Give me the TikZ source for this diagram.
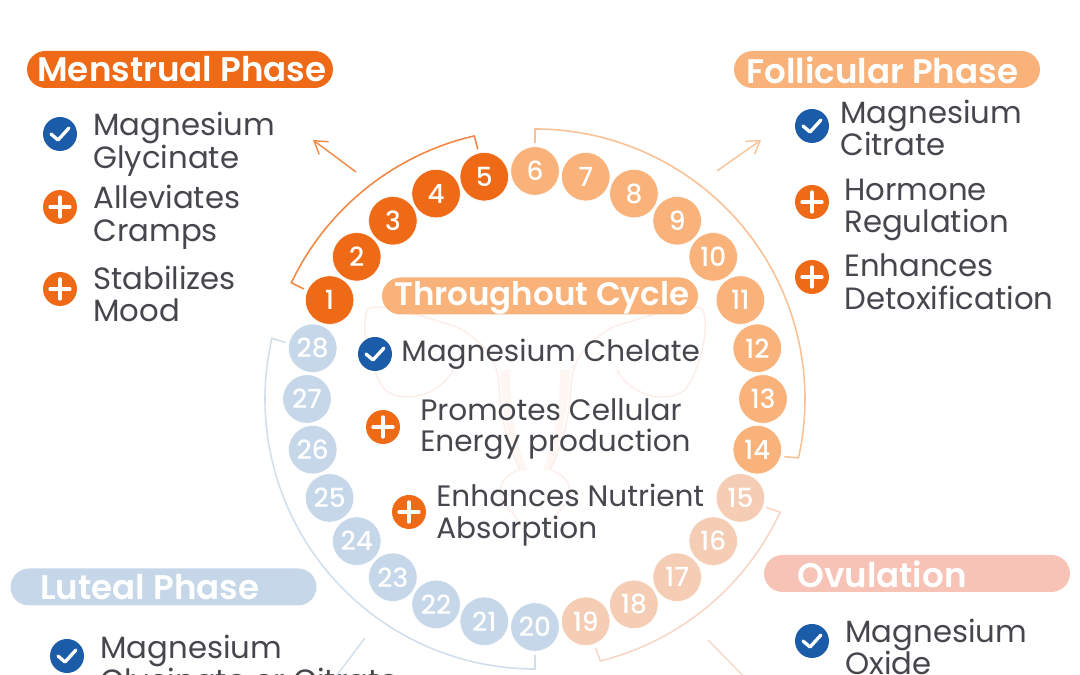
\documentclass[tikz,border=0pt]{standalone}
\usepackage{fontspec}
\setmainfont{Poppins}
\newfontfamily\pillfont{Poppins SemiBold}
\newfontfamily\dayfont{Poppins Medium}
\usetikzlibrary{arrows.meta}
\definecolor{menscol}{HTML}{EF6A17}
\definecolor{follcol}{HTML}{F8B27A}
\definecolor{ovulcol}{HTML}{F5CDB4}
\definecolor{lutecol}{HTML}{C5D7E9}
\definecolor{ovulpill}{HTML}{F6C3B6}
\definecolor{checkcol}{HTML}{1B5CA8}
\definecolor{inkcol}{HTML}{45474D}
\definecolor{wombcol}{HTML}{FCEDE8}
\tikzset{
    dayball/.style={circle,draw=white,line width=0.3pt,minimum size=0.97cm,inner sep=0pt,text=white,font=\dayfont\fontsize{15}{15}\selectfont},
    pill/.style={minimum width=6.12cm,minimum height=0.74cm,inner sep=0pt,rounded corners=0.37cm},
    pilltext/.style={anchor=west,inner sep=0pt,text=white,font=\pillfont\fontsize{19.4}{19.4}\selectfont},
    item/.style={anchor=west,inner sep=0pt,align=left,text=inkcol,font=\fontsize{17.5}{18.6}\selectfont},
    centreitem/.style={item,font=\fontsize{16.8}{18}\selectfont},
    checkicon/.style={circle,fill=checkcol,minimum size=0.68cm,inner sep=0pt,
        path picture={\draw[white,line width=1.9pt,line cap=round,line join=round]
            ([shift={(-9,0)}]path picture bounding box.center) --
            ([shift={(-2,-6)}]path picture bounding box.center) --
            ([shift={(9,6)}]path picture bounding box.center);}},
    plusicon/.style={circle,fill=menscol,minimum size=0.68cm,inner sep=0pt,
        path picture={\draw[white,line width=1.9pt,line cap=round]
            ([shift={(-10,0)}]path picture bounding box.center) --
            ([shift={(10,0)}]path picture bounding box.center)
            ([shift={(0,-10)}]path picture bounding box.center) --
            ([shift={(0,10)}]path picture bounding box.center);}},
    bracket/.style={line width=0.9pt,shorten <=2pt,shorten >=2pt},
    phasearrow/.style={line width=0.8pt,-{Straight Barb[length=7pt,width=9pt]}}
}
\begin{document}
\begin{tikzpicture}[x=0.02cm,y=0.02cm]
    \clip (0,0) rectangle (1080,675);
    \coordinate (ctr) at (535,276);
    % womb behind the centre text
    \foreach \s in {1,-1}{
        \begin{scope}[shift={(535,0)},xscale=\s]
            \fill[wombcol,opacity=0.5] (25,305) -- (35,305) .. controls (33,260) and (25,230) .. (15,205) -- (8,205) .. controls (18,230) and (25,260) .. (25,305);
            \draw[wombcol,line width=0.8pt] (78,348) .. controls (55,335) and (38,320) .. (36,290) .. controls (34,250) and (25,225) .. (15,205);
            \draw[wombcol,line width=0.8pt] (15,205) .. controls (35,200) and (40,180) .. (30,170) .. controls (20,160) and (12,150) .. (8,135);
            \draw[wombcol,line width=0.8pt] (78,348) .. controls (110,358) and (160,375) .. (168,365) .. controls (175,345) and (165,305) .. (150,285);
            \draw[wombcol,line width=0.8pt] (82,305) .. controls (95,280) and (130,270) .. (150,285);
        \end{scope}
    }
    % days
    \foreach \from/\to/\col in {1/5/menscol,6/14/follcol,15/19/ovulcol,20/28/lutecol}
        \foreach \n in {\from,...,\to}{
            \pgfmathsetmacro{\a}{90+(6-\n)*360/28}
            \node[dayball,fill=\col] (d\n) at ([shift={(\a:228)}]ctr) {\n};
        }
    % brackets
    \draw[bracket,draw=menscol!80!white] (d1.157) -- ([shift={(154.5:270)}]ctr) arc[start angle=154.5,end angle=103,radius=270] -- (d5.103);
    \draw[bracket,draw=follcol!80!white] (d6.90) -- ([shift={(90:270)}]ctr) arc[start angle=90,end angle=-12.6,radius=270] -- (d14.-16);
    \draw[bracket,draw=ovulcol!80!white] (d15.-20) -- ([shift={(-24.8:270)}]ctr) arc[start angle=-24.8,end angle=-76,radius=270] -- (d19.-70);
    \draw[bracket,draw=lutecol!80!white] (d20.-90) -- ([shift={(-90:270)}]ctr) arc[start angle=-90,end angle=-193,radius=270] -- (d28.169);
    % arrows
    \coordinate (mensA) at (356,503);
    \coordinate (mensB) at (313,535);
    \coordinate (follA) at (717,504);
    \coordinate (follB) at (761,535);
    \coordinate (luteA) at (365,37);
    \coordinate (luteB) at (318,-25);
    \coordinate (ovulA) at (708,35);
    \coordinate (ovulB) at (760,-18);
    \draw[phasearrow,draw=menscol!80!white] (mensA) -- (mensB);
    \draw[phasearrow,draw=follcol!80!white] (follA) -- (follB);
    \draw[phasearrow,draw=lutecol!80!white] (luteA) -- (luteB);
    \draw[phasearrow,draw=ovulcol!80!white] (ovulA) -- (ovulB);
    % menstrual
    \node[pill,fill=menscol] (menspill) at (180,605.5) {};
    \node[pilltext] (menstitle) at (37,605.5) {Menstrual Phase};
    \node[checkicon] (menscheck) at (60,541) {};
    \node[plusicon] (mensplusa) at (60,468) {};
    \node[plusicon] (mensplusb) at (60,386) {};
    \node[item] (mensa) at (93,531) {Magnesium\\Glycinate};
    \node[item] (mensb) at (93,458) {Alleviates\\Cramps};
    \node[item] (mensc) at (93,381) {Stabilizes\\Mood};
    % follicular
    \node[pill,fill=follcol] (follpill) at (887,605.5) {};
    \node[pilltext] (folltitle) at (746,604.5) {Follicular Phase};
    \node[checkicon] (follcheck) at (812,549) {};
    \node[plusicon] (follplusa) at (812,473) {};
    \node[plusicon] (follplusb) at (812,398) {};
    \node[item] (folla) at (840,547) {Magnesium\\Citrate};
    \node[item] (follb) at (844,465) {Hormone\\Regulation};
    \node[item] (follc) at (844,393) {Enhances\\Detoxification};
    % throughout
    \node[pill,fill=follcol,minimum width=6.32cm] (allpill) at (540,379) {};
    \node[pilltext,font=\pillfont\fontsize{18.5}{18.5}\selectfont] (alltitle) at (394,377) {Throughout Cycle};
    \node[checkicon] (allcheck) at (375,321) {};
    \node[plusicon] (allplusa) at (383,248) {};
    \node[plusicon] (allplusb) at (409,163) {};
    \node[centreitem] (alla) at (401,321) {Magnesium Chelate};
    \node[centreitem] (allb) at (420,246) {Promotes Cellular\\Energy production};
    \node[centreitem] (allc) at (436,160) {Enhances Nutrient\\Absorption};
    % luteal
    \node[pill,fill=lutecol] (lutepill) at (163.5,88) {};
    \node[pilltext] (lutetitle) at (40,88) {Luteal Phase};
    \node[checkicon] (lutecheck) at (67,19) {};
    \node[item] (lutea) at (100,8) {Magnesium\\Glycinate or Citrate};
    % ovulation
    \node[pill,fill=ovulpill] (ovulpill) at (917,101.5) {};
    \node[pilltext] (ovultitle) at (797,100.5) {Ovulation};
    \node[checkicon] (ovulcheck) at (812,34) {};
    \node[item] (ovula) at (845,28) {Magnesium\\Oxide};
\end{tikzpicture}
\end{document}
